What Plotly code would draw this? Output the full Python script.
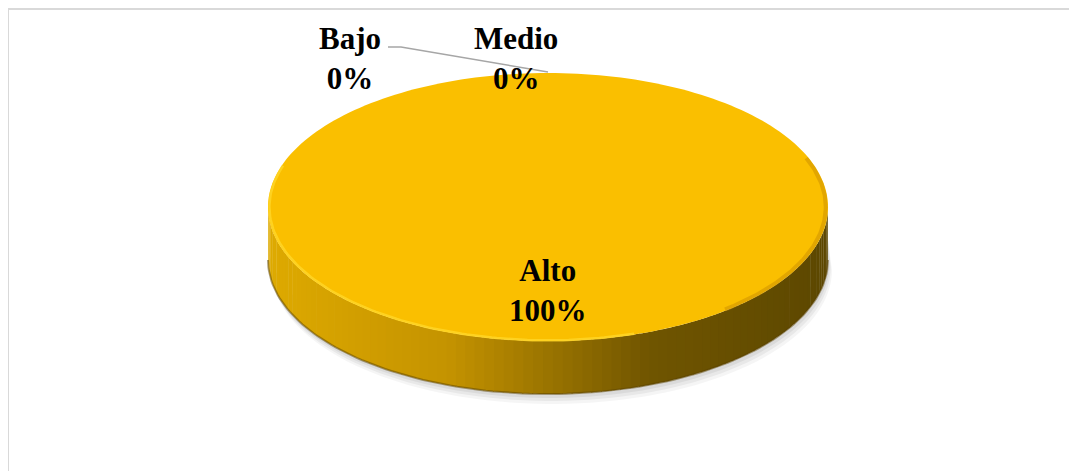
import numpy as np
import plotly.graph_objects as go

# ---- data ----
categories = ["Bajo", "Medio", "Alto"]
values = [0, 0, 100]
pct_labels = ["0%", "0%", "100%"]
slice_colors = ["#4472C4", "#A5A5A5", "#FABF00"]

# ---- geometry (pixel space of the page) ----
W, H = 1077, 471
OFF = 8  # page body margin
cx, cy = 548, 207
rx, ry = 280, 134
depth = 53

total = float(sum(values))
fracs = [v / total for v in values]
starts = np.cumsum([0] + fracs[:-1])
ends = starts + np.array(fracs)


def pt(theta, dy=0.0, scale=1.0):
    # theta: angle in radians clockwise from 12 o'clock
    return cx + scale * rx * np.sin(theta), cy - scale * ry * np.cos(theta) + dy


def interp_color(t):
    stops = [(0.0, (222, 170, 0)), (0.32, (196, 147, 0)), (0.5, (154, 116, 0)),
             (0.68, (112, 85, 0)), (1.0, (92, 71, 0))]
    t = min(max(t, 0), 1)
    for (t0, c0), (t1, c1) in zip(stops[:-1], stops[1:]):
        if t0 <= t <= t1:
            f = (t - t0) / (t1 - t0) if t1 > t0 else 0
            return "rgb(%d,%d,%d)" % tuple(round(a + (b - a) * f) for a, b in zip(c0, c1))
    return "rgb(%d,%d,%d)" % stops[-1][1]


fig = go.Figure()

# shadow under the pie
for off, col in [(10, "rgba(0,0,0,0.04)"), (7, "rgba(0,0,0,0.05)"), (4, "rgba(0,0,0,0.06)")]:
    th = np.linspace(np.pi / 2, 3 * np.pi / 2, 80)
    xs, ys = pt(th, depth + off)
    xs = xs + off * 0.4
    xt, yt = pt(th[::-1], depth - 20)
    fig.add_trace(go.Scatter(x=np.r_[xs, xt], y=np.r_[ys, yt], fill="toself", mode="none",
                             fillcolor=col, hoverinfo="skip", showlegend=False))

# side wall (front half), drawn per slice in thin strips for shading
for i, v in enumerate(values):
    if v <= 0:
        continue
    a0 = 2 * np.pi * starts[i]
    a1 = 2 * np.pi * ends[i]
    lo, hi = max(a0, np.pi / 2), min(a1, 3 * np.pi / 2)
    if hi <= lo:
        continue
    edges = np.linspace(lo, hi, 90)
    for e0, e1 in zip(edges[:-1], edges[1:]):
        th = np.linspace(e0, e1 + 0.004, 4)
        xt, yt = pt(th)
        xb, yb = pt(th[::-1], depth)
        xm = np.mean(xt)
        t = (xm - (cx - rx)) / (2 * rx)
        fig.add_trace(go.Scatter(x=np.r_[xt, xb], y=np.r_[yt, yb], fill="toself", mode="none",
                                 fillcolor=interp_color(t), hoverinfo="skip", showlegend=False))
    th = np.linspace(lo, hi, 120)
    xb, yb = pt(th, depth)
    fig.add_trace(go.Scatter(x=xb, y=yb, mode="lines", line=dict(color="rgba(90,65,0,0.5)", width=2),
                             hoverinfo="skip", showlegend=False))

# top faces
for i, v in enumerate(values):
    if v <= 0:
        continue
    th = np.linspace(2 * np.pi * starts[i], 2 * np.pi * ends[i], 240)
    xs, ys = pt(th)
    if fracs[i] < 1:
        xs = np.r_[cx, xs, cx]
        ys = np.r_[cy, ys, cy]
    fig.add_trace(go.Scatter(x=xs, y=ys, fill="toself", mode="none", fillcolor=slice_colors[i],
                             hoverinfo="skip", showlegend=False))

# soft bevel: light rim on front-left, darker rim on right
th = np.linspace(np.pi * 0.9, np.pi * 1.6, 120)
xs, ys = pt(th, 0, 0.995)
fig.add_trace(go.Scatter(x=xs, y=ys, mode="lines", line=dict(color="rgba(255,215,40,0.8)", width=2.5),
                         hoverinfo="skip", showlegend=False))
th = np.linspace(np.pi * 0.38, np.pi * 0.78, 120)
xs, ys = pt(th, 0, 0.992)
fig.add_trace(go.Scatter(x=xs, y=ys, mode="lines", line=dict(color="rgba(205,145,0,0.55)", width=4),
                         hoverinfo="skip", showlegend=False))

# labels
font = dict(family="Times New Roman, Liberation Serif, Tinos, serif", size=31, color="#000000")
label_pos = {"Bajo": (350, 58), "Medio": (516, 58)}
for i, c in enumerate(categories):
    if values[i] > 0:
        mid = np.pi * (starts[i] + ends[i])
        lx, ly = pt(mid, 0, 0.62)
    else:
        lx, ly = label_pos[c]
    fig.add_annotation(x=lx, y=ly, text="<b>%s<br>%s</b>" % (c, pct_labels[i]), showarrow=False,
                       font=font, align="center", xanchor="center", yanchor="middle")

# leader line for Bajo to its slice point
ax_, ay_ = pt(2 * np.pi * starts[0])
fig.add_trace(go.Scatter(x=[388, 401, ax_], y=[47, 47, ay_ - 1], mode="lines",
                         line=dict(color="#A6A6A6", width=1.5), hoverinfo="skip", showlegend=False))

# chart border
fig.add_shape(type="rect", xref="x", yref="y", x0=8, y0=9, x1=W + 20, y1=H + 20,
              line=dict(color="#D9D9D9", width=2), fillcolor="rgba(0,0,0,0)", layer="below")

fig.update_layout(
    width=W, height=H, margin=dict(l=0, r=0, t=0, b=0),
    paper_bgcolor="white", plot_bgcolor="white", showlegend=False,
    xaxis=dict(range=[OFF, W + OFF], visible=False, fixedrange=True),
    yaxis=dict(range=[H + OFF, OFF], visible=False, fixedrange=True),
)
fig.write_html("out.html")
